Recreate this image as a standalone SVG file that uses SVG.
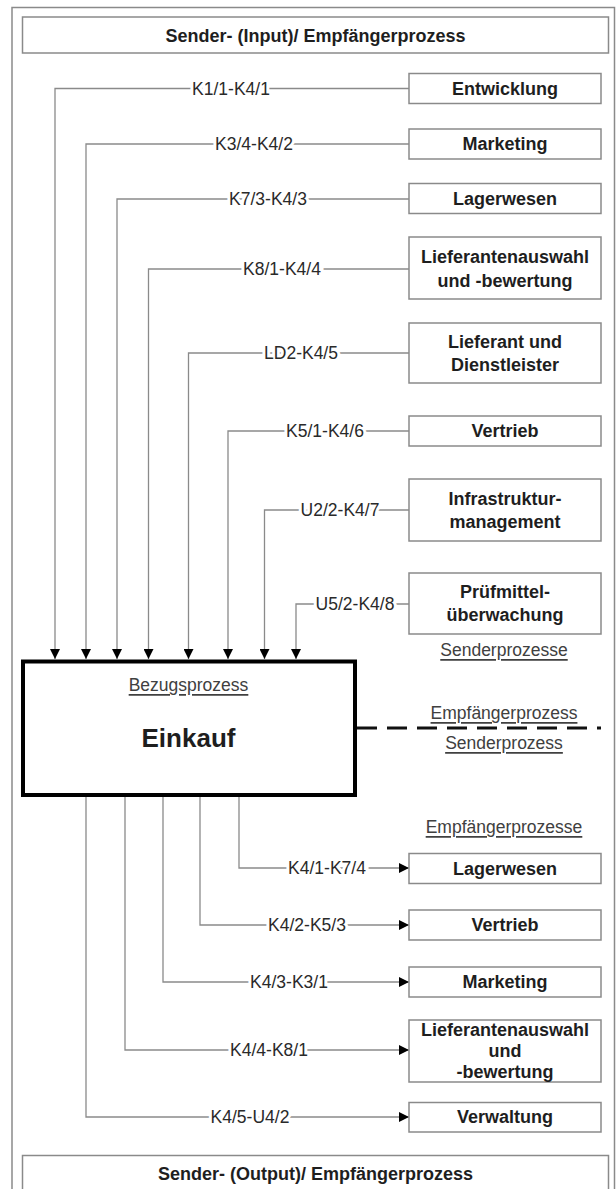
<svg xmlns="http://www.w3.org/2000/svg" width="616" height="1189" viewBox="0 0 616 1189">
<style>
.box{fill:#fff;stroke:#8a8a8a;stroke-width:1.5}
.t{font-family:"Liberation Sans",Arial,sans-serif;fill:#1e1e1e}
.b{font-weight:bold;font-size:18px;text-anchor:middle;dominant-baseline:central}
.lbl{font-size:17.5px;text-anchor:middle;dominant-baseline:central;stroke:#fff;stroke-width:6;paint-order:stroke;fill:#2a2a2a}
.u{font-size:17.5px;text-anchor:middle;dominant-baseline:central;text-decoration:underline;fill:#404040}
.c{fill:none;stroke:#8a8a8a;stroke-width:1.3}
</style>
<defs>
<marker id="ah" viewBox="0 0 10 10" refX="10" refY="5" markerWidth="10" markerHeight="10" markerUnits="userSpaceOnUse" orient="auto"><path d="M0,0 L10,5 L0,10 Z" fill="#000"/></marker>
</defs>
<rect width="616" height="1189" fill="#fff"/>
<rect x="12" y="7.5" width="602.5" height="1300" fill="none" stroke="#8a8a8a" stroke-width="1.5"/>
<g id="hdr-in"><rect class="box" x="22.5" y="17" width="586" height="36"/><text class="t b" x="315.5" y="35.5">Sender- (Input)/ Empfängerprozess</text></g>
<g id="hdr-out"><rect class="box" x="22.5" y="1155.5" width="586" height="60"/><text class="t b" x="315.5" y="1173.5">Sender- (Output)/ Empfängerprozess</text></g>
<g id="connectors">
<path class="c" d="M409,88.5 H55 V659" marker-end="url(#ah)"/>
<path class="c" d="M409,144 H86 V659" marker-end="url(#ah)"/>
<path class="c" d="M409,199 H117 V659" marker-end="url(#ah)"/>
<path class="c" d="M409,269 H148.5 V659" marker-end="url(#ah)"/>
<path class="c" d="M409,353 H188.5 V659" marker-end="url(#ah)"/>
<path class="c" d="M409,431 H228 V659" marker-end="url(#ah)"/>
<path class="c" d="M409,510 H264.5 V659" marker-end="url(#ah)"/>
<path class="c" d="M409,604 H296 V659" marker-end="url(#ah)"/>
<path class="c" d="M239,797 V868 H409" marker-end="url(#ah)"/>
<path class="c" d="M200,797 V925 H409" marker-end="url(#ah)"/>
<path class="c" d="M163,797 V982 H409" marker-end="url(#ah)"/>
<path class="c" d="M125,797 V1050 H409" marker-end="url(#ah)"/>
<path class="c" d="M86,797 V1117 H409" marker-end="url(#ah)"/>
<line x1="357" y1="728" x2="601" y2="728" stroke="#111" stroke-width="3" stroke-dasharray="20,10"/>
<text class="t lbl" x="231" y="88.5">K1/1-K4/1</text>
<text class="t lbl" x="254" y="144">K3/4-K4/2</text>
<text class="t lbl" x="268" y="199">K7/3-K4/3</text>
<text class="t lbl" x="282" y="269">K8/1-K4/4</text>
<text class="t lbl" x="301" y="353">LD2-K4/5</text>
<text class="t lbl" x="325" y="431">K5/1-K4/6</text>
<text class="t lbl" x="340" y="510">U2/2-K4/7</text>
<text class="t lbl" x="355" y="604">U5/2-K4/8</text>
<text class="t lbl" x="327" y="868">K4/1-K7/4</text>
<text class="t lbl" x="307" y="925">K4/2-K5/3</text>
<text class="t lbl" x="289" y="982">K4/3-K3/1</text>
<text class="t lbl" x="269" y="1050">K4/4-K8/1</text>
<text class="t lbl" x="250" y="1117">K4/5-U4/2</text>
</g>
<g id="in-entwicklung"><rect class="box" x="409" y="73.5" width="192" height="30"/><text class="t b" x="505" y="88.5">Entwicklung</text></g>
<g id="in-marketing"><rect class="box" x="409" y="129" width="192" height="30"/><text class="t b" x="505" y="144">Marketing</text></g>
<g id="in-lagerwesen"><rect class="box" x="409" y="183.5" width="192" height="30"/><text class="t b" x="505" y="198.5">Lagerwesen</text></g>
<g id="in-lieferantenauswahl"><rect class="box" x="409" y="237" width="192" height="62"/><text class="t b" x="505" y="257">Lieferantenauswahl</text><text class="t b" x="505" y="281">und -bewertung</text></g>
<g id="in-lieferant"><rect class="box" x="409" y="323" width="192" height="60"/><text class="t b" x="505" y="342">Lieferant und</text><text class="t b" x="505" y="365">Dienstleister</text></g>
<g id="in-vertrieb"><rect class="box" x="409" y="416" width="192" height="30"/><text class="t b" x="505" y="431">Vertrieb</text></g>
<g id="in-infrastruktur"><rect class="box" x="409" y="479" width="192" height="62"/><text class="t b" x="505" y="499">Infrastruktur-</text><text class="t b" x="505" y="522">management</text></g>
<g id="in-pruefmittel"><rect class="box" x="409" y="573" width="192" height="61"/><text class="t b" x="505" y="592">Prüfmittel-</text><text class="t b" x="505" y="615">überwachung</text></g>
<g id="einkauf"><rect x="23" y="661.5" width="332" height="133.5" fill="#fff" stroke="#000" stroke-width="4"/><text class="t u" x="188.5" y="685">Bezugsprozess</text><text class="t" x="188.5" y="738" font-size="26" font-weight="bold" text-anchor="middle" dominant-baseline="central">Einkauf</text></g>
<g id="side-labels">
<text class="t u" x="504" y="650">Senderprozesse</text>
<text class="t u" x="504" y="713">Empfängerprozess</text>
<text class="t u" x="504" y="743">Senderprozess</text>
<text class="t u" x="504" y="827">Empfängerprozesse</text>
</g>
<g id="out-lagerwesen"><rect class="box" x="409" y="853.5" width="192" height="30"/><text class="t b" x="505" y="868.5">Lagerwesen</text></g>
<g id="out-vertrieb"><rect class="box" x="409" y="910" width="192" height="30"/><text class="t b" x="505" y="925">Vertrieb</text></g>
<g id="out-marketing"><rect class="box" x="409" y="967" width="192" height="30"/><text class="t b" x="505" y="982">Marketing</text></g>
<g id="out-lieferantenauswahl"><rect class="box" x="409" y="1020" width="192" height="62"/><text class="t b" x="505" y="1030">Lieferantenauswahl</text><text class="t b" x="505" y="1051">und</text><text class="t b" x="505" y="1072">-bewertung</text></g>
<g id="out-verwaltung"><rect class="box" x="409" y="1102.5" width="192" height="29.5"/><text class="t b" x="505" y="1117">Verwaltung</text></g>
</svg>
